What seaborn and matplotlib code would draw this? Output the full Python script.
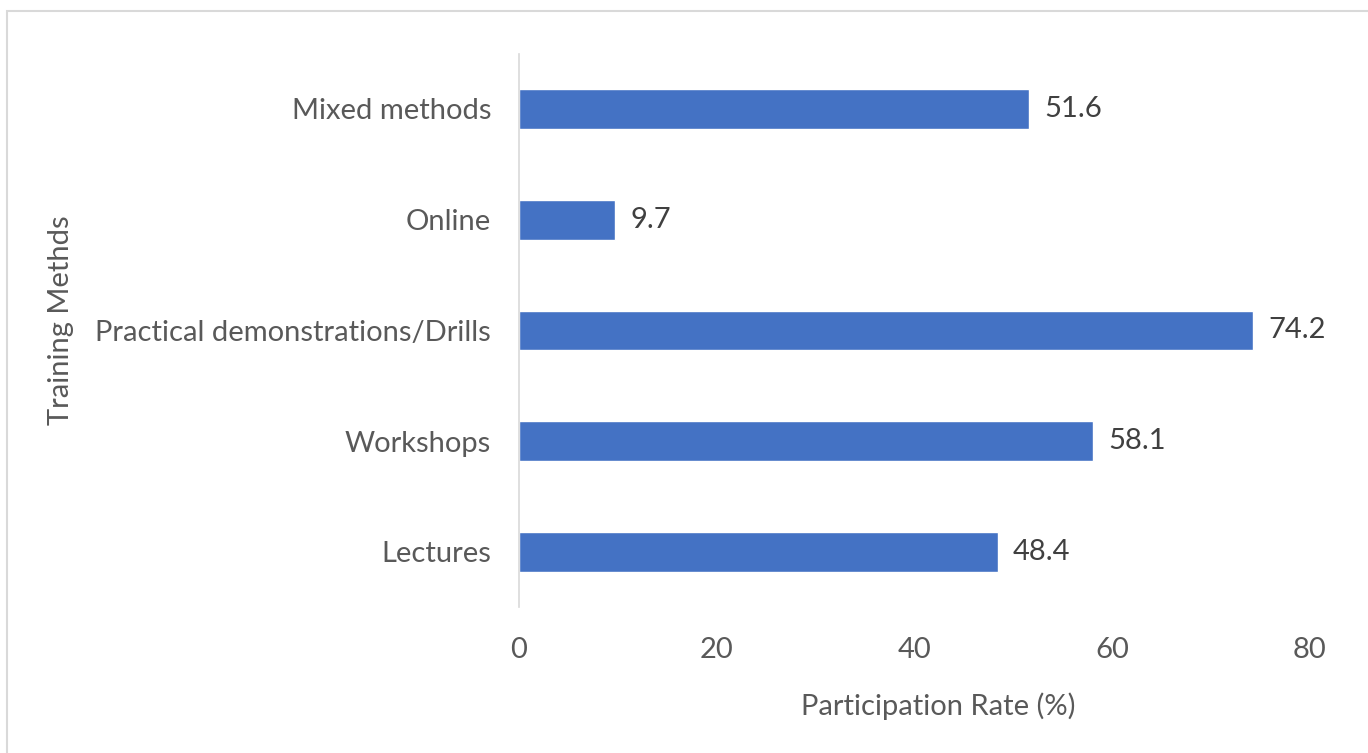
import matplotlib
matplotlib.use("Agg")
import matplotlib.pyplot as plt
import seaborn as sns
import pandas as pd
from matplotlib.patches import Rectangle

categories = ["Mixed methods", "Online", "Practical demonstrations/Drills", "Workshops", "Lectures"]
values = [51.6, 9.7, 74.2, 58.1, 48.4]
xticks = [0, 20, 40, 60, 80]

sns.set_theme(style="white")
plt.rcParams['font.family'] = ['Lato', 'DejaVu Sans']

df = pd.DataFrame({"method": categories, "rate": values})

fig = plt.figure(figsize=(13.68, 7.53), dpi=100)
ax = fig.add_axes([0.3794, 0.1934, 0.5782, 0.7354])

sns.barplot(data=df, y="method", x="rate", order=categories, color="#4472C4",
            saturation=1, width=0.36, orient="h", ax=ax)

ax.set_xlim(0, 80)
ax.set_xticks(xticks)
ax.set_xticklabels([str(t) for t in xticks])
text_col = "#595959"
fs = 21
ax.tick_params(axis="x", length=0, pad=21, labelsize=fs, labelcolor=text_col)
ax.tick_params(axis="y", length=0, pad=20, labelsize=fs, labelcolor=text_col)
for s in ["top", "right", "bottom"]:
    ax.spines[s].set_visible(False)
ax.spines["left"].set_color("#D9D9D9")
ax.spines["left"].set_linewidth(1.2)

ax.set_xlabel("Participation Rate (%)", fontsize=fs, color=text_col)
ax.set_ylabel("Training Methds", fontsize=fs, color=text_col)
ax.xaxis.set_label_coords(0.53, -0.153)
ax.yaxis.set_label_coords(-0.563, 0.519)

for cont in ax.containers:
    ax.bar_label(cont, labels=[f"{v:.1f}" for v in values], padding=11,
                 fontsize=fs, color="#404040")

fig.patches.append(Rectangle((7 / 1368, -0.01), 1.02, 1 - 11 / 753 + 0.01,
                             transform=fig.transFigure, fill=False,
                             edgecolor="#D9D9D9", linewidth=1.5))

fig.savefig("out.png", dpi=100)
